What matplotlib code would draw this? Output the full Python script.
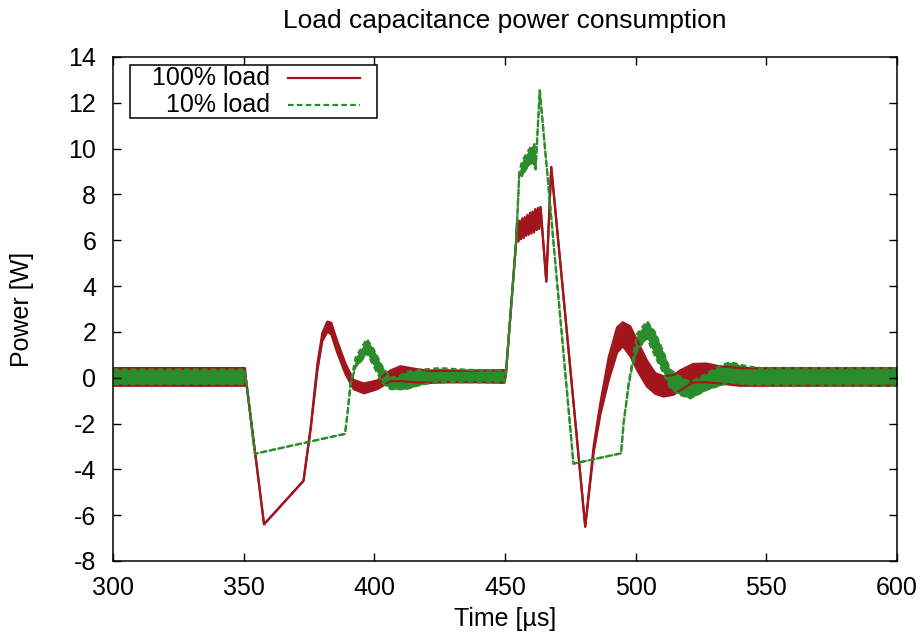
import numpy as np
import matplotlib.pyplot as plt
from matplotlib.patches import Rectangle

plt.rcParams['font.family'] = ['Liberation Sans', 'DejaVu Sans']
plt.rcParams['font.size'] = 18
plt.rcParams['axes.unicode_minus'] = False

# 100% load : time [us], upper / lower edge of the ripple [W]
full_t = [300, 350.5, 350.8, 357.8, 372.9, 375.7, 378.2, 380.1, 382.0, 383.5,
          385.8, 389.0, 392.1, 396.0, 401.1, 406.2, 410.0, 416.0, 421.0, 430.0,
          440.0, 449.8, 450.3, 454.3,
          454.6, 455.1, 455.6, 456.1, 456.6, 457.1, 457.6, 458.1, 458.6, 459.1,
          459.6, 460.1, 460.6, 461.1, 461.6, 462.1, 462.6, 463.1, 463.6,
          465.8, 467.7, 480.7, 483.9, 486.5, 489.7, 492.9, 495.1, 497.9, 501.1,
          504.3, 507.5, 510.7, 514.5, 517, 522, 527, 532, 540, 600]
full_hi = [0.42, 0.42, 0.0, -6.4, -4.5, -2.1, 0.6, 1.95, 2.45, 2.4,
           1.6, 0.6, -0.1, -0.25, -0.12, 0.32, 0.5, 0.38, 0.3, 0.3,
           0.32, 0.33, 0.1, 6.0,
           6.75, 5.95, 6.85, 6.05, 6.95, 6.1, 7.0, 6.2, 7.1, 6.25,
           7.2, 6.3, 7.25, 6.35, 7.35, 6.45, 7.4, 6.5, 7.45,
           4.2, 9.2, -6.5, -3.0, -1.1, 0.9, 2.2, 2.42, 2.25, 1.5,
           0.75, 0.2, 0.06, 0.12, 0.32, 0.6, 0.62, 0.5, 0.42, 0.42]
full_lo = [-0.35, -0.35, 0.0, -6.4, -4.5, -2.2, 0.3, 1.6, 2.0, 1.9,
           1.1, 0.15, -0.5, -0.68, -0.5, -0.15, -0.15, -0.2, -0.22, -0.2,
           -0.2, -0.22, 0.1, 6.0,
           6.75, 5.95, 6.85, 6.05, 6.95, 6.1, 7.0, 6.2, 7.1, 6.25,
           7.2, 6.3, 7.25, 6.35, 7.35, 6.45, 7.4, 6.5, 7.45,
           4.2, 9.2, -6.5, -3.3, -1.6, -0.1, 1.1, 1.38, 0.95, 0.22,
           -0.38, -0.7, -0.82, -0.74, -0.55, -0.2, -0.2, -0.25, -0.35, -0.35]

# 10% load
part_t = [300, 350.5, 350.8, 354.3, 388.8, 389.9, 390.9, 392.9, 394.8, 397.1,
          399.8, 403.0, 406.2, 409.4, 412, 418, 425, 435, 449.8, 450.3,
          454.3, 455.5, 456.5, 458, 460, 461.3, 461.7, 463.3, 476.2, 494.4,
          495.4, 497.3, 498.6, 500.5, 504.3, 507.5, 510.7, 513.2, 517, 520.9,
          527.3, 532, 536.1, 542.5, 548, 600]
part_hi = [0.36, 0.36, 0.0, -3.32, -2.45, -1.4, -0.2, 0.9, 1.25, 1.69,
           1.23, 0.5, 0.0, 0.06, 0.25, 0.35, 0.42, 0.35, 0.3, 0.1,
           6.0, 9.0, 9.45, 9.75, 10.1, 10.2, 9.1, 12.55, -3.75, -3.3,
           -1.97, -0.25, 0.65, 1.9, 2.47, 1.97, 1.1, 0.35, 0.05, -0.2,
           0.2, 0.5, 0.68, 0.5, 0.42, 0.42]
part_lo = [-0.28, -0.28, 0.0, -3.32, -2.45, -1.4, -0.3, 0.5, 0.7, 1.08,
           0.5, -0.22, -0.5, -0.5, -0.5, -0.3, -0.18, -0.2, -0.2, 0.1,
           6.0, 9.0, 8.8, 9.1, 9.4, 9.2, 9.1, 12.55, -3.75, -3.3,
           -1.97, -0.35, 0.45, 1.2, 1.74, 0.92, 0.2, -0.45, -0.75, -0.9,
           -0.52, -0.35, -0.2, -0.3, -0.33, -0.35]

red = '#a0161c'
green = '#2a8c2a'

fig = plt.figure(figsize=(9.24, 6.44), dpi=100)
ax = fig.add_axes([113/924, 83/644, 784/924, 504/644])


def draw(t, hi, lo, color, dashes=None):
    ax.fill_between(t, lo, hi, color=color, lw=0)
    for edge in (hi, lo):
        line, = ax.plot(t, edge, color=color, lw=1.6)
        if dashes:
            line.set_dashes(dashes)


draw(full_t, full_hi, full_lo, red)
draw(part_t, part_hi, part_lo, green, dashes=(2.5, 1.5))

ax.set_xlim(300, 600)
ax.set_ylim(-8, 14)
ax.set_xticks(np.arange(300, 601, 50))
ax.set_yticks(np.arange(-8, 15, 2))
ax.tick_params(direction='in', top=True, right=True, length=5.5, width=1)
ax.tick_params(axis='x', pad=11)
ax.tick_params(axis='y', pad=12)
for s in ax.spines.values():
    s.set_linewidth(1.1)

ax.set_title('Load capacitance power consumption', fontsize=19, pad=21)
ax.set_xlabel('Time [\u00b5s]')
ax.set_ylabel('Power [W]')
ax.xaxis.set_label_coords(0.5, -0.091)
ax.yaxis.set_label_coords(-0.101, 0.5)

# gnuplot style key
ax.add_patch(Rectangle((0.0217, 0.879), 0.3146, 0.105, transform=ax.transAxes,
                       fill=True, facecolor='white', edgecolor='black', lw=1.1, zorder=5))
ax.text(0.200, 0.958, '100% load', transform=ax.transAxes, ha='right', va='center', zorder=6)
ax.text(0.200, 0.905, '10% load', transform=ax.transAxes, ha='right', va='center', zorder=6)
ax.plot([0.2229, 0.3146], [0.958, 0.958], transform=ax.transAxes, color=red, lw=1.6, zorder=6)
ax.plot([0.2229, 0.3146], [0.905, 0.905], transform=ax.transAxes, color=green, lw=1.6,
        dashes=(2.5, 1.5), zorder=6)

plt.savefig('out.png', dpi=100)
